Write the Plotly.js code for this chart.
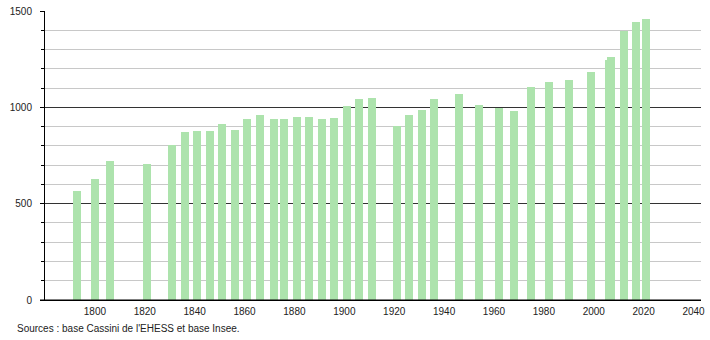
<!DOCTYPE html>
<html>
<head>
<meta charset="utf-8">
<script src="https://cdn.plot.ly/plotly-3.0.1.min.js"></script>
<style>html,body{margin:0;padding:0;background:#fff;}#chart{width:710px;height:340px;}</style>
</head>
<body>
<div id="chart"></div>
<script>
const years = [1793,1800,1806,1821,1831,1836,1841,1846,1851,1856,1861,1866,1872,1876,1881,1886,1891,1896,1901,1906,1911,1921,1926,1931,1936,1946,1954,1962,1968,1975,1982,1990,1999,2006,2007,2012,2017,2021];
const population = [565,626,720,706,804,873,877,877,915,882,938,960,938,938,951,949,938,944,1007,1043,1048,901,960,986,1043,1069,1012,998,981,1105,1131,1142,1185,1245,1261,1398,1441,1457];
const xTicks = [1800,1820,1840,1860,1880,1900,1920,1940,1960,1980,2000,2020,2040];
const yTicks = [0,500,1000,1500];
const sourceText = "Sources : base Cassini de l'EHESS et base Insee.";

const trace = {
  type: 'bar',
  x: years,
  y: population,
  width: years.map(() => 3.2),
  marker: {color: '#ade3ad', line: {width: 0}},
  hoverinfo: 'skip'
};

const layout = {
  width: 710, height: 340,
  margin: {l: 45, r: 9, t: 11, b: 40, pad: 0},
  paper_bgcolor: '#fff', plot_bgcolor: '#fff',
  font: {family: '"Liberation Sans", Arial, sans-serif', size: 10, color: '#222'},
  showlegend: false,
  bargap: 0,
  xaxis: {
    range: [1780, 2043],
    tickvals: xTicks,
    ticktext: xTicks.map(String),
    showgrid: false, zeroline: false,
    showline: true, linecolor: '#000', linewidth: 1,
    ticks: '', ticklabelstandoff: 2,
    fixedrange: true
  },
  yaxis: {
    range: [0, 1500],
    tickvals: yTicks,
    ticktext: yTicks.map(String),
    showgrid: true, gridcolor: '#333', gridwidth: 1,
    zeroline: false,
    showline: true, linecolor: '#000', linewidth: 1,
    ticks: 'outside', ticklen: 4, tickcolor: '#000',
    ticklabelstandoff: 6,
    minor: {dtick: 100, showgrid: true, gridcolor: '#c8c8c8', gridwidth: 1, ticks: 'outside', ticklen: 3, tickcolor: '#000'},
    fixedrange: true
  },
  shapes: [
    {type: 'line', xref: 'paper', yref: 'y', x0: -5/656, x1: 1, y0: 0, y1: 0, line: {color: '#000', width: 1.2}, layer: 'above'}
  ],
  annotations: [
    {text: sourceText, xref: 'paper', yref: 'paper', x: -30/656, y: -28/289, xanchor: 'left', yanchor: 'middle', showarrow: false, font: {size: 10, color: '#222'}}
  ]
};

Plotly.newPlot('chart', [trace], layout, {displayModeBar: false, staticPlot: true});
</script>
</body>
</html>
